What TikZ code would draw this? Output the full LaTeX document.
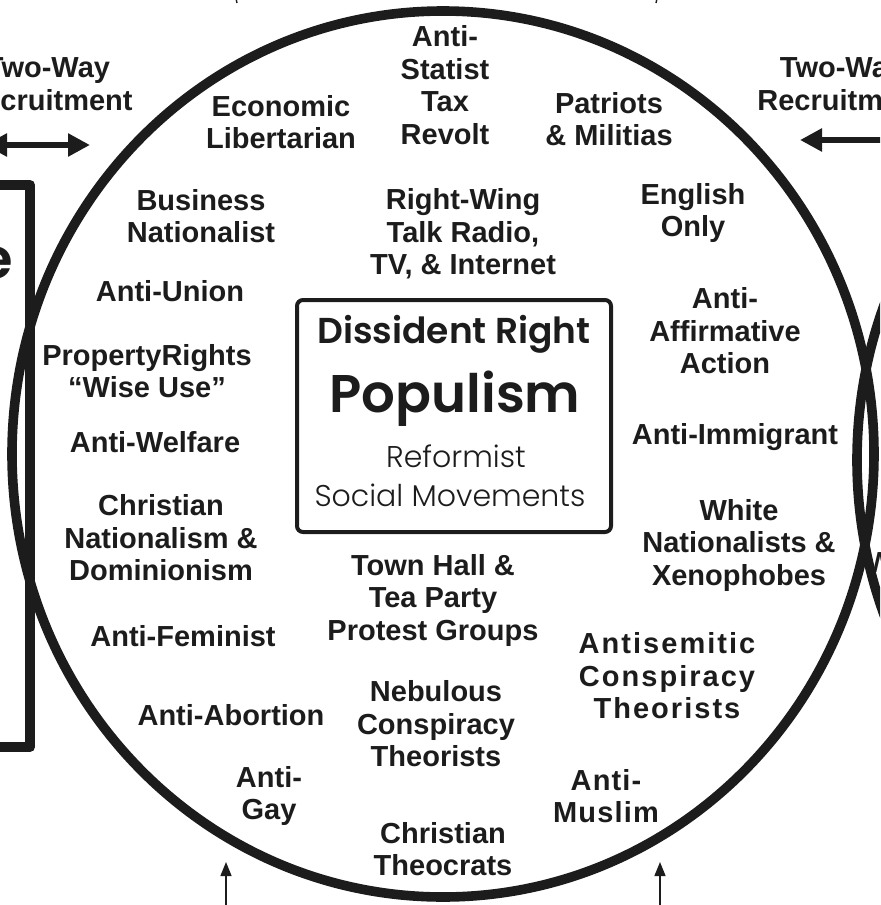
\documentclass[tikz,border=0pt]{standalone}
\usepackage{fontspec}
\setmainfont{Liberation Sans}
\newfontfamily\gothic{Poppins}[BoldFont={Poppins SemiBold}]
\newfontfamily\gothiclight{Poppins Light}
\usetikzlibrary{arrows.meta}
\definecolor{ink}{gray}{0.11}

\begin{document}
\begin{tikzpicture}[x=0.5pt,y=-0.5pt,line join=round,
    every node/.style={inner sep=0pt,text=ink},
    grp/.style={font=\bfseries\fontsize{14.5}{16.25}\selectfont,align=center},
    wide/.style={grp,font=\bfseries\fontsize{14.5}{16.25}\selectfont\addfontfeatures{LetterSpace=7}},
    ring/.style={draw=ink,line width=4.8pt},
    recruit/.style={draw=ink,line width=3pt},
    feed/.style={draw=ink,line width=0.7pt,-{Triangle[length=7pt,width=5.5pt]}}]
    \path[clip] (0,0) rectangle (880,905);
    % neighbours, cut by the frame
    \draw[draw=ink,line width=5pt] (-60,185) rectangle (30,747);
    \node[anchor=base east,font=\gothic\bfseries\fontsize{28}{30}\selectfont] (leftword) at (13,278) {e};
    \draw[ring] (1288,460) ellipse [x radius=431, y radius=443];
    \node[anchor=west,grp] (rightword) at (866,563) {W};
    % the big circle
    \draw[ring] (443,454) ellipse [x radius=431, y radius=443];
    \node[draw=ink,line width=2pt,rounded corners=3pt,minimum width=157pt,minimum height=116pt] (core) at (454,416) {};
    \node[anchor=base,font=\gothic\bfseries\fontsize{18}{20}\selectfont] (dissident) at (454,343) {Dissident Right};
    \node[anchor=base,font=\gothic\bfseries\fontsize{26.5}{30}\selectfont] (populism) at (455,412) {Populism};
    \node[anchor=base,font=\gothiclight\fontsize{15}{18}\selectfont] (reformist) at (456,467) {Reformist};
    \node[anchor=base,font=\gothiclight\fontsize{15}{18}\selectfont] (social) at (450,506) {Social Movements};

    \node[grp] (tax)       at (445,85)  {Anti-\\Statist\\Tax\\Revolt};
    \node[grp] (econ)      at (281,122) {Economic\\Libertarian};
    \node[grp] (patriots)  at (609,119) {Patriots\\\& Militias};
    \node[grp] (business)  at (201,216) {Business\\Nationalist};
    \node[grp] (talk)      at (463,234) {Right-Wing\\Talk Radio,\\TV, \& Internet};
    \node[grp] (english)   at (693,213) {English\\Only};
    \node[grp] (union)     at (170,291) {Anti-Union};
    \node[grp] (affirm)    at (725,331) {Anti-\\Affirmative\\Action};
    \node[grp] (property)  at (147,371) {PropertyRights\\“Wise Use”};
    \node[grp] (welfare)   at (155,442) {Anti-Welfare};
    \node[grp] (immigrant) at (735,437) {Anti-Immigrant};
    \node[grp] (christnat) at (161,538) {Christian\\Nationalism \&\\Dominionism};
    \node[grp] (white)     at (739,545) {White\\Nationalists \&\\Xenophobes};
    \node[grp] (townhall)  at (433,600) {Town Hall \&\\Tea Party\\Protest Groups};
    \node[grp] (feminist)  at (183,636) {Anti-Feminist};
    \node[wide] (antisem)  at (667,676) {Antisemitic\\Conspiracy\\Theorists};
    \node[grp] (abortion)  at (231,715) {Anti-Abortion};
    \node[grp] (nebulous)  at (436,724) {Nebulous\\Conspiracy\\Theorists};
    \node[grp] (gay)       at (269,796) {Anti-\\Gay};
    \node[grp,font=\bfseries\fontsize{14.5}{16.25}\selectfont\addfontfeatures{LetterSpace=4}] (muslim) at (606,796) {Anti-\\Muslim};
    \node[grp] (theocrats) at (443,849) {Christian\\Theocrats};

    % recruitment in and out
    \node[grp] (recruitL) at (48,84)  {Two-Way\\Recruitment};
    \node[grp] (recruitR) at (842,84) {Two-Way\\Recruitment};
    \coordinate (inL)  at (-15,145);
    \coordinate (outL) at (90,145);
    \coordinate (inR)  at (900,140);
    \coordinate (outR) at (800,140);
    \draw[recruit,{Triangle[length=11pt,width=11pt]}-{Triangle[length=11pt,width=11pt]}] (inL) -- (outL);
    \draw[recruit,-{Triangle[length=11pt,width=11pt]}] (inR) -- (outR);
    % feeds from below and above
    \coordinate (feedA) at (226,910);
    \coordinate (tipA)  at (226,862);
    \coordinate (feedB) at (660,910);
    \coordinate (tipB)  at (660,862);
    \draw[feed] (feedA) -- (tipA);
    \draw[feed] (feedB) -- (tipB);
    \coordinate (topA) at (235,-6);
    \coordinate (endA) at (237,3);
    \coordinate (topB) at (658,-6);
    \coordinate (endB) at (656,3);
    \draw[draw=ink,line width=0.7pt] (topA) -- (endA);
    \draw[draw=ink,line width=0.7pt] (topB) -- (endB);
\end{tikzpicture}
\end{document}
